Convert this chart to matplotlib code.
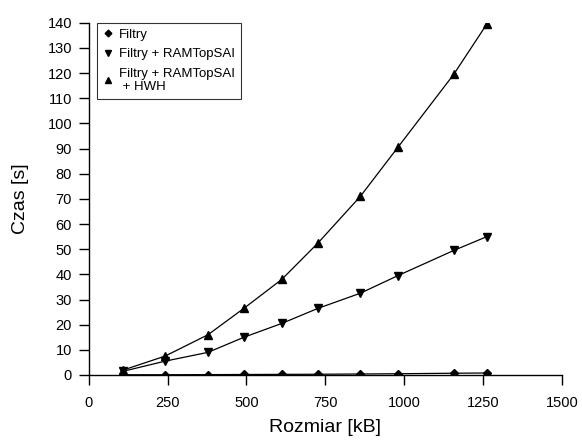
import matplotlib
matplotlib.use("Agg")
import matplotlib.pyplot as plt

# data
rozmiar = [110, 242, 378, 492, 612, 727, 861, 980, 1157, 1262]
filtry = [0.1, 0.1, 0.15, 0.2, 0.25, 0.3, 0.4, 0.5, 0.7, 0.8]
filtry_ram = [1.5, 5.5, 9.0, 15.0, 20.5, 26.5, 32.5, 39.5, 49.5, 55.0]
filtry_ram_hwh = [2.0, 7.5, 16.0, 26.5, 38.0, 52.5, 71.0, 90.5, 119.5, 139.5]

labels = ["Filtry", "Filtry + RAMTopSAI", "Filtry + RAMTopSAI\n + HWH"]
x_ticks = [0, 250, 500, 750, 1000, 1250, 1500]
y_ticks = list(range(0, 141, 10))

plt.rcParams['font.family'] = ['Liberation Sans', 'DejaVu Sans']

fig = plt.figure(figsize=(5.82, 4.46), dpi=100)
ax = fig.add_axes([0.1524, 0.1592, 0.8132, 0.7898])

ax.plot(rozmiar, filtry, color='black', lw=0.9, marker='D', ms=4, label=labels[0])
ax.plot(rozmiar, filtry_ram, color='black', lw=0.9, marker='v', ms=5.5, label=labels[1])
ax.plot(rozmiar, filtry_ram_hwh, color='black', lw=0.9, marker='^', ms=5.5, label=labels[2])

ax.set_xlim(0, 1500)
ax.set_ylim(0, 140)
ax.set_xticks(x_ticks)
ax.set_yticks(y_ticks)
ax.tick_params(labelsize=10.5, length=7, width=1, color='black')
ax.tick_params(axis='x', pad=8)
ax.tick_params(axis='y', pad=5)
ax.spines['top'].set_visible(False)
ax.spines['right'].set_visible(False)
ax.spines['left'].set_linewidth(1)
ax.spines['bottom'].set_linewidth(1)

ax.set_xlabel("Rozmiar [kB]", fontsize=14)
ax.set_ylabel("Czas [s]", fontsize=14)
ax.xaxis.set_label_coords(0.5, -0.125)
ax.yaxis.set_label_coords(-0.127, 0.5)

leg = ax.legend(loc='upper left', bbox_to_anchor=(0.018, 1.0), fontsize=9.5,
                frameon=True, fancybox=False, edgecolor='black', borderpad=0.45,
                handlelength=0.7, handletextpad=0.5, labelspacing=0.55,
                borderaxespad=0, markerscale=0.85)
leg.get_frame().set_linewidth(0.8)
for h in leg.legend_handles:
    h.set_linestyle('none')

fig.savefig("out.png", dpi=100)
